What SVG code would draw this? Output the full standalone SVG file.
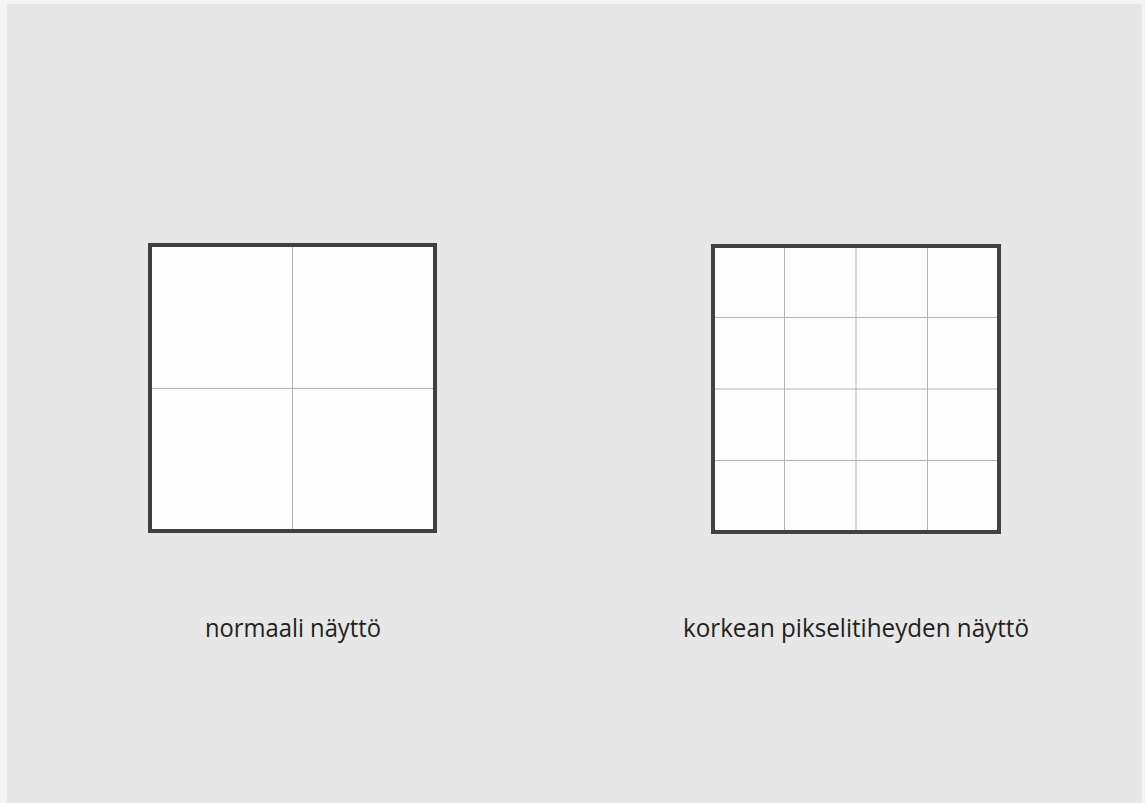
<svg xmlns="http://www.w3.org/2000/svg" width="1145" height="803" viewBox="0 0 1145 803">
<style>
.frame{fill:#fdfdfd;stroke:#414141;stroke-width:4}
.grid{stroke:#b3b3b3;stroke-width:1;fill:none}
.lbl{font-family:"Open Sans","Liberation Sans",sans-serif;font-size:25px;fill:#231f20;text-anchor:middle}
</style>
<rect x="0" y="0" width="1145" height="803" fill="#f3f4f3"/>
<rect x="7" y="4" width="1135" height="799" fill="#e6e7e6"/>
<g id="normal">
<rect class="frame" x="150" y="245" width="285" height="286"/>
<path class="grid" d="M292.5 247V529M152 388.5H433"/>
<text class="lbl" x="293" y="637" textLength="176" lengthAdjust="spacingAndGlyphs">normaali näyttö</text>
</g>
<g id="hidpi">
<rect class="frame" x="713" y="246" width="286" height="286"/>
<path class="grid" d="M784.5 248V530M856 248V530M927.5 248V530M715 317.5H997M715 389H997M715 460.5H997"/>
<text class="lbl" x="856" y="637" textLength="346" lengthAdjust="spacingAndGlyphs">korkean pikselitiheyden näyttö</text>
</g>
<g id="connectors"/>
</svg>
